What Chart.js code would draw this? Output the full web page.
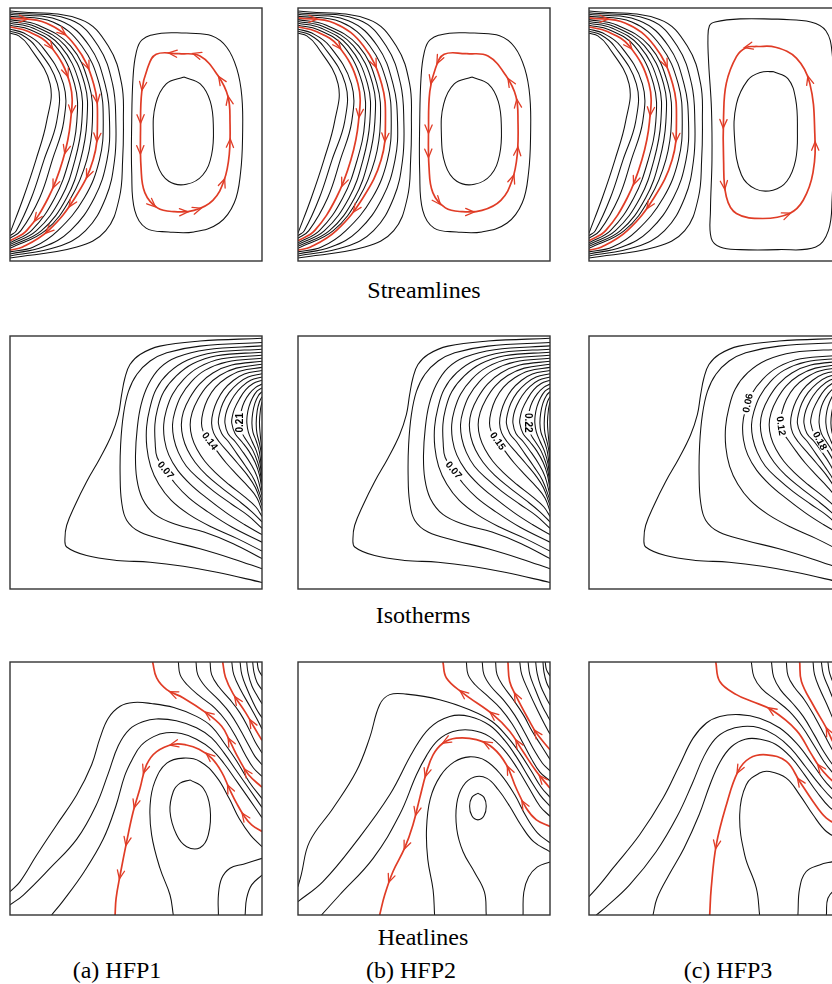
<!DOCTYPE html>
<html><head><meta charset="utf-8">
<script src="https://cdn.jsdelivr.net/npm/chart.js@4.4.0/dist/chart.umd.min.js"></script>
<style>
html,body{margin:0;padding:0;background:#fff;width:832px;height:984px;overflow:hidden;position:relative}
canvas{position:absolute}
.t{position:absolute;font-family:"Liberation Serif","Times New Roman",serif;font-size:24px;color:#000;text-align:center;width:300px;line-height:26px;white-space:nowrap}
</style></head><body>
<div class="t" style="left:274px;top:277px">Streamlines</div>
<div class="t" style="left:273px;top:602px">Isotherms</div>
<div class="t" style="left:273px;top:924px">Heatlines</div>
<div class="t" style="left:-33px;top:957px">(a) HFP1</div>
<div class="t" style="left:261px;top:957px">(b) HFP2</div>
<div class="t" style="left:578px;top:957px">(c) HFP3</div>
<script>
// ---------- Streamlines: left (clockwise) cell, x % read at fixed depths (percent of height from top) ----------
const slStartTop = [10, 9.2, 8.4, 7.5, 6.8, 6.0, 5.3, 4.6, 3.9, 3.2, 2.5, 1.9, 1.2];
const slNearX    = [3.5, 4.5, 5.5, 7, 8, 9, 10, 11, 14.5, 17, 20, 24, 28];
const slNearTop  = [11, 10.5, 9.9, 9.2, 8.6, 7.9, 7.3, 6.7, 6, 5.5, 5, 4.6, 4.5];
const slX15 = [7.5, 10, 12.5, 16, 18, 20, 22, 24, 26, 28.5, 31.5, 35, 39];
const slX30 = [15.9, 18.8, 21.2, 23.8, 25.6, 27.6, 29.6, 31.3, 33.2, 35.4, 37.7, 40.7, 44.3];
const slX45 = [14.5, 18.5, 21.3, 24, 26.5, 28.5, 30.5, 32.7, 34.7, 37, 39.5, 42, 45];
const slX60 = [10.3, 13.5, 16.8, 21, 23.5, 25.8, 28, 30.5, 33, 35.5, 38.5, 41.5, 44.7];
const slX75 = [5.3, 8.5, 11.8, 15.2, 17.8, 20.3, 22.5, 24.2, 25.8, 29.5, 33.5, 38, 43.4];
const slX88 = [null, 2.5, 4.3, 6.6, 8.5, 10.5, 12.5, 14, 15.2, 19, 24, 30, 38];
const slX94 = [null, null, null, null, null, null, null, null, 5, 9.3, 13, 18.5, 26.5];
const slEndTop = [89, 90, 91, 92, 92.8, 93.5, 94.2, 95, 95.7, 96.4, 97.2, 98, 98.8];
const slRed = [3, 8];

// right (counter-clockwise) cell, [x %, depth % from top]
const cellOuterAB = [[70,9.9],[60,10],[52.5,12.5],[50,18],[48.8,28],[48.3,45],[48.3,65],[49.5,80],[54,87],[63,88.5],[73,88.5],[83,85],[89,77],[91.5,65],[92.3,50],[92,35],[90,24],[86,15.5],[80,11],[70,9.9]];
const cellRedAB = [[67,18],[58,18.3],[54.5,24],[52.3,33],[51.8,48],[52,63],[53.5,73],[58.5,79],[65,80.5],[73,80],[80.5,76],[85,68],[87,58],[87.3,45],[86.5,35],[82.5,26.7],[75.4,19],[67,18]];
const cellInnerAB = [[69,27.3],[62,30],[57.8,38],[56.9,50],[58.5,62],[63,68.5],[70,69.7],[76.5,66],[80,58],[80.7,47],[79.5,37],[75.5,30],[69,27.3]];
const cellOuterC = [[75,4.4],[60,4.3],[50,5.5],[47.8,7],[47.2,12],[47.5,22],[48.6,40],[48.8,60],[48.2,80],[48.5,91],[52,94.5],[60,95.5],[75,95.5],[90,94.5],[95,88],[96.5,75],[97,55],[97,35],[96.5,18],[94,9],[88,5.5],[75,4.4]];
const cellRedC = [[66.4,15.2],[62.4,15.6],[58.5,19.2],[54.5,29.7],[53.4,43],[53.4,60],[54.5,74.6],[58.5,81.2],[69,83.2],[79.6,81.2],[85,76],[88.9,65],[89.6,49.5],[87.6,29.7],[82.3,19.8],[74,15.5],[66.4,15.2]];
const cellInnerC = [[73,25.1],[68,25.5],[63,28.5],[58.5,38],[57.8,52],[60.5,66],[66,71.5],[73,72],[78.5,68.5],[82,60],[82.7,48],[82,36],[79,28],[73,25.1]];

// arrow positions (fractional point index along each red line)
const arrowsStream = {
  a: {A: [2, 2.75, 3.7, 4.75, 5.65, 6.6], B: [0.35, 1.5, 2.55, 3.4, 4.4, 5.35, 6.15, 7], loop: [0.25, 2.8, 3.75, 4.55, 6.7, 8.5, 9.15, 10.9, 12.35, 13.87, 14.8, 16.17]},
  b: {A: [2, 3.8, 5.6], B: [0.4, 2.5, 4.4, 6.3], loop: [1.5, 2.5, 4, 4.65, 6.5, 8.4, 11.05, 12.1, 13.75, 14.7]},
  c: {A: [2, 3.75, 5.55], B: [0.4, 2.5, 4.4, 6.2], loop: [0.8, 4.15, 5.7, 8.9, 11.7, 13.1]}
};

// ---------- Isotherms (outermost to innermost), [x %, depth %] ----------
const isoLines = [
 [[100,0.9],[75.4,2],[59.5,4],[51.6,7.3],[47.6,11.3],[45.6,16.6],[44.3,23.2],[43,31.1],[40.3,39.1],[35.7,48.3],[30.4,57.6],[25.8,66.9],[22.5,74.8],[21.8,80.1],[22.5,83.4],[30.4,86.8],[42.3,88.7],[55.6,89.4],[68.8,91],[82.1,93.4],[100,97.4]],
 [[100,2.6],[75.4,4],[62.2,6.6],[55.6,9.9],[50.3,15.2],[47,21.9],[45,31.1],[43.9,43],[43.7,55],[44.3,65.6],[46.3,72.8],[51.6,77.5],[62.2,80.8],[75.4,84.1],[88.6,88.1],[100,92]],
 [[100,3.9],[78,5.4],[66.1,8.4],[59.5,12.6],[54.9,19.2],[52,27.2],[50.5,36.4],[49.8,47],[50.3,56.3],[52.5,64.2],[57.5,70.5],[66,74.5],[77,77.5],[88.6,82.1],[100,88]],
 [[100,5.2],[81,6.5],[70.5,9.5],[63,14.5],[58,21],[55.5,28.5],[54.2,36],[54.3,44],[55.8,51.5],[59,58.5],[64,65],[71,70.5],[80,75.5],[90,80],[100,85]],
 [[100,6.4],[82,7.8],[72.5,11],[66,15.8],[61,22],[58.5,29],[57.5,35],[57.6,42],[58.4,48],[61.8,53],[65.5,58.3],[71,64],[78.5,69.5],[88,75.5],[100,81.5]],
 [[100,7.6],[84,9],[75,12.3],[69,17],[64.5,23],[62,29.5],[61,35],[61.3,41],[63,47],[66.5,53],[71.5,58.5],[78,64],[86,70],[93,74.5],[100,78.5]],
 [[100,8.8],[86,10.3],[77.5,13.5],[72,18],[67.8,23.8],[65.4,30],[64.5,35],[65,40.5],[66.8,46],[70,51.5],[75,56.5],[81,61.5],[88,66.5],[94.5,71],[100,76]],
 [[100,10],[88,11.5],[80.5,14.6],[75.2,19],[71.3,24.5],[68.8,30],[68,35],[68.6,40],[70.4,45],[73.5,50],[78,55],[84,60],[90.5,65],[96,69.5],[100,73.5]],
 [[100,11.2],[89.8,12.7],[83.2,15.6],[78.2,19.8],[74.6,25],[72.3,30.2],[71.5,35],[72.2,40],[74.2,44.8],[77.3,49.5],[81.5,54],[87,58.8],[93,63.5],[97.5,67.5],[100,71.3]],
 [[100,12.4],[91.5,13.8],[86,16.5],[81.5,20.3],[78.4,25],[76.6,30],[76,34.5],[76.6,37.5],[79.3,41.5],[82.3,45.7],[85.8,50.2],[90,54.8],[94.5,59.5],[98,64],[100,69.2]],
 [[100,13.6],[93,15],[88.5,17.7],[84.8,21.3],[82.2,25.6],[80.6,30],[80,34.5],[80.8,38.3],[83,41.8],[86.6,46],[90.3,50.3],[94.2,55],[97.4,60],[100,67]],
 [[100,14.9],[94.5,16.2],[90.5,18.7],[87,22.3],[84.5,26.5],[83.2,30.5],[82.7,34.5],[84,38.5],[86.7,41.8],[90,46.5],[93.5,51.5],[97,57],[100,65]],
 [[100,16.2],[95.5,17.5],[92,20],[89,23.5],[86.8,27.5],[85.6,31],[85.3,34.5],[86.5,38.5],[89.4,41.8],[92.5,46],[95.5,50.5],[98,55.5],[100,63]],
 [[100,17.5],[96.5,18.8],[93.5,21.3],[91,25],[89,29],[88.2,32],[88,34.5],[89.3,38.5],[92,41.8],[94.8,45.5],[97.3,50],[99,55],[100,61]],
 [[100,19],[97.5,20.3],[95,22.8],[93,26],[91.8,29.5],[91.3,34.3],[92.2,38.5],[94.2,41.8],[96.5,45.5],[98.3,50],[99.3,54],[100,59]],
 [[100,20.5],[98,21.8],[96.2,24.5],[94.8,28],[94.1,31.5],[94,34.5],[94.6,38],[96,41.5],[97.8,45.5],[99.2,50.5],[100,57]],
 [[100,22],[98.6,23.5],[97.2,26.5],[96.3,30.5],[96,34.5],[96.4,38],[97.7,41.5],[99,46],[100,54.5]],
 [[100,24],[99,26],[98.1,29.5],[97.7,34.5],[98,38.5],[99,42.5],[99.7,46.5],[100,51.5]],
 [[100,26],[99.4,29],[99,34],[99.3,39],[99.8,44],[100,48]]
];
// panel (c) has wider spacing: the same lines minus two of the outer ones
const isoIndexC = [0, 1, 3, 5, 6, 7, 8, 9, 10, 11, 12, 13, 14, 15, 16, 17, 18];
const isoLabelsA = [{t:'0.07',x:61.8,y:53,a:50},{t:'0.14',x:79.3,y:41.5,a:53},{t:'0.21',x:91.3,y:34.3,a:-90}];
const isoLabelsB = [{t:'0.07',x:61.8,y:53,a:50},{t:'0.15',x:79.3,y:41.5,a:55},{t:'0.22',x:91.3,y:34.3,a:90}];
const isoLabelsC = [{t:'0.06',x:63,y:26.5,a:-78},{t:'0.12',x:76.2,y:35.5,a:82},{t:'0.18',x:91.6,y:41.4,a:62}];

// ---------- Heatlines, [x %, depth %]; red lines listed from the right wall ----------
const hlBlackA = [
 [[98.1,0],[98.6,3],[100,5.5]],
 [[96.3,0],[96.8,4],[98,8],[100,11]],
 [[93.9,0],[94.5,4.5],[96,9.5],[98.2,13.5],[100,16.5]],
 [[91.3,0],[92,5],[94,10.5],[96.5,16],[98.3,19.5],[100,22]],
 [[88,0],[88.8,5],[91.5,11],[95.5,18],[98,22.5],[100,26.5]],
 [[79.4,0],[80,5],[82.7,9.6],[87.3,14.9],[91.3,20.2],[94.6,26.1],[97.2,31.4],[100,36]],
 [[73.8,0],[74.5,5],[77.4,9.6],[82.7,14.9],[87.3,20.2],[91.3,26.7],[94.6,32.7],[97.2,37.3],[100,40.6]],
 [[66.8,0],[67.5,5],[70.2,8.9],[75.4,13.6],[81.3,18.2],[85.9,23.5],[89.9,30],[93.3,36.6],[96.6,41.9],[100,45.2]],
 [[0,90.8],[4,86.8],[10.6,76.3],[18.5,64.4],[26.5,52.5],[32.4,40.6],[35.7,30.1],[39,22.2],[43.7,17.5],[49,16],[56,16.4],[65,18],[74,21.5],[80,25.5],[85,32],[90,39.2],[95,47.5],[100,54]],
 [[0,96],[5.3,92.1],[15.9,81.5],[26.5,70],[34,57],[39,44],[43,33],[47.5,26.5],[53,23.5],[58,22.5],[66,23.2],[74,26],[80,30],[85,36],[90,43.2],[95,50.3],[100,57.5]],
 [[16.5,100],[21,94.5],[29.5,82.8],[37,70],[42,57],[45.5,45],[48.5,38.5],[52,33],[57,29.5],[62,28],[68,28.3],[74,30.5],[80,34.5],[85,40.2],[90,47.2],[95,54.3],[100,61.5]],
 [[64.8,100],[63.5,92.1],[59.5,81.5],[56.2,68.3],[55.6,56.5],[57.5,47.2],[62.2,40],[68.8,38],[75.4,39.3],[82,45.5],[87,54],[91,62],[95.5,68.5],[100,73]],
 [[71.4,46.6],[67.5,47.9],[64.8,51.2],[63.5,59.1],[66.1,68.3],[70.1,73],[75.4,73.4],[78.7,68.3],[79.4,57.8],[76.7,49.9],[71.4,46.6]],
 [[82.7,100],[82.7,92.1],[84,85.5],[87.3,81.5],[92.6,79.9],[100,77.6]],
 [[93.3,100],[93.9,93.4],[95.9,88.1],[100,84.2]]
];
const hlRedA = [
 [[100,31],[97,26],[93.5,20],[88.5,12.5],[85.5,6],[84.4,0]],
 [[100,49.5],[94.6,44.5],[90.6,37.9],[87.3,31.4],[84,25.4],[78,20.2],[68.8,14.2],[62.2,10.9],[58.2,6.3],[56.6,0]],
 [[100,67],[96,64.5],[93,61],[90,56],[87,50],[84,43.5],[80,38],[75,34.5],[70,32.8],[65,32.5],[58.2,35.4],[54.2,40.6],[51.6,49.9],[48.9,59.1],[46.3,71],[43.7,84.2],[42.1,93.4],[41.7,100]]
];
const hlArrowsA = [[1.3, 2.7], [1.15, 3, 4.9, 6.6], [2, 4, 6.2, 9, 11.2, 12.7, 14, 15]];

const hlBlackB = [
 [[98.1,0],[98.6,3],[100,5.5]],
 [[97.2,0],[97.6,4],[98.6,8],[100,11]],
 [[94.3,0],[94.9,4.5],[96.3,9.5],[98.4,14],[100,17]],
 [[91.3,0],[92,5],[94,10.5],[96.5,16.5],[98.3,20],[100,23]],
 [[88,0],[88.8,5],[91.5,11.5],[95,19],[97.8,24.5],[100,28.5]],
 [[78.4,0],[79,5],[81.5,9.6],[85.5,15],[89.5,21],[93,27.5],[96.5,33],[100,38.5]],
 [[73.1,0],[73.8,5],[76.5,9.6],[81.5,15],[86,21],[90,28],[93.5,34.5],[97,40],[100,43]],
 [[66.8,0],[67.5,5],[70.2,8.9],[75.4,13.6],[80.5,18.5],[85,24.5],[89,31.5],[92.5,38],[96,43.5],[100,47]],
 [[0,88.8],[1.3,84],[4.6,71],[13.9,57.8],[23.1,43.3],[28.4,30.1],[32.4,16.9],[36.4,12.9],[43,12.7],[56.2,14.9],[68.1,18.9],[77,23.5],[83,29.5],[88,36],[92.5,43],[96.5,49.5],[100,53.5]],
 [[0,94.7],[9.9,86.8],[23.1,71],[36.4,52.5],[45.6,35.4],[52.2,26.1],[60.2,21.5],[68.1,21.5],[76,25],[82,31],[87,38],[91.5,45.5],[96,52.5],[100,57]],
 [[9.3,100],[16.5,92.1],[29.8,77.6],[40.3,60.4],[47,44.6],[51,37],[55.5,31],[61.5,27.5],[69,27],[76,29.5],[82,35],[87,42],[91.5,49.5],[96,57],[100,61]],
 [[54.2,100],[53.6,90],[51.5,78],[51,66],[52.5,54],[56.5,45],[62,39.5],[68,37.5],[74.5,39],[80.5,44.5],[86,52.5],[90.5,61],[95,67.5],[100,71.5]],
 [[74.7,100],[74,91],[70,83],[65.5,75],[63,66],[63,56],[65.5,49],[70,45.5],[75,46],[79.5,50.5],[84,57],[88.5,64.5],[93.5,71],[100,75]],
 [[71.4,51.8],[69,53.5],[68.1,57],[69,60.8],[71.4,62.4],[73.8,60.8],[74.7,57],[73.8,53.5],[71.4,51.8]],
 [[89.3,100],[89.6,91],[91.5,85],[95,81],[100,79]]
];
const hlRedB = [
 [[100,34.7],[94.6,28.1],[91.9,23.5],[86.6,13.6],[84,7.7],[83.3,0]],
 [[100,49.9],[94.6,43.3],[89.3,35.4],[84,27.4],[77.4,20.8],[65.5,12.3],[58.9,6.3],[57.5,0]],
 [[100,65],[94.6,62.4],[90.6,57.8],[86.6,49.9],[82.7,40.6],[77.4,34],[70.8,30.7],[62.8,30.1],[57.5,32.1],[53.6,36.7],[50.9,43.9],[48.3,53.8],[45.6,64.4],[42.3,73.6],[37.7,82.8],[34.4,92.1],[32.4,100]]
];
const hlArrowsB = [[1, 3], [0.6, 2.4, 4, 5], [2.2, 3.8, 5.4, 7.75, 10, 11.5, 12.9, 14.3]];

const hlBlackC = [
 [[97.5,0],[98.2,3.5],[100,7]],
 [[94.8,0],[95.5,4.5],[97.5,9.5],[100,14]],
 [[92.2,0],[93,5],[95,10],[97.5,16],[100,21]],
 [[88.9,0],[89.5,5],[91.5,10.5],[94.5,17],[97.5,24],[100,29]],
 [[78.3,0],[79,5.5],[81.5,10],[85.5,15],[89.5,21.5],[93.5,29],[97,35.5],[100,40.5]],
 [[72.4,0],[73.3,6],[76,11],[80.5,16],[85,21.5],[89.5,29],[93.5,36],[97,41],[100,44]],
 [[64.4,0],[65.5,6],[68.5,10.5],[74,15],[79.5,19.5],[84.5,25.5],[89,32.5],[93,39],[96.5,43.5],[100,47]],
 [[0,92.7],[4.2,88.1],[9.5,81.5],[20.1,68.3],[29.4,53.8],[36,40.6],[41.3,30.1],[46.6,24.1],[51.9,21.5],[59.8,20.8],[67.7,22.2],[75.7,26.1],[82.3,32.1],[88.9,40.6],[94.2,47.8],[100,53.5]],
 [[2.9,100],[6.9,96.7],[16.1,88.1],[26.7,74.9],[35,61],[41,48],[45.5,37.5],[50,30.5],[55,27],[61,25.5],[67.5,26],[74,29],[80,34],[86,41.5],[91.5,48.5],[96.5,54],[100,56.5]],
 [[25.4,100],[27,93.4],[31.7,84.2],[37.7,73.6],[43.7,60.4],[48,48.5],[52,39.5],[56.5,33.5],[62,30.5],[68,30.5],[74,32.5],[80,37.5],[85.5,44.5],[90.5,51.5],[95.5,57.5],[100,60.5]],
 [[67.7,100],[66.4,89.4],[61.8,76.3],[59.8,60.4],[62.4,48.5],[67.7,43.9],[71.7,43.3],[78.3,45.9],[83.6,52.5],[88.9,60.4],[94.2,67],[100,70.3]],
 [[82.9,100],[83.6,89.4],[86.2,82.8],[91.5,80.2],[96.8,78.9],[100,78.2]],
 [[94.2,100],[94.8,93.4],[98.1,89.4],[100,88.1]]
];
const hlRedC = [
 [[100,37],[97,32],[94.2,26.1],[88.9,16.9],[84.3,7.7],[83.6,0]],
 [[100,50],[95,45.5],[91.3,41.2],[88,36],[82.3,27],[72.4,18.9],[64.5,15.5],[58.5,12.9],[51.9,7.7],[50.3,0]],
 [[100,65],[94.2,61.7],[88.9,55.1],[83.6,47.2],[78.3,39.3],[70.4,36.7],[63.8,38],[59.1,43.3],[54.5,56.5],[50.5,72.3],[48.5,89.4],[47.9,100]]
];
const hlArrowsC = [[1.8], [1.9, 5], [3, 6.9, 9]];

// ---------- drawing helpers ----------
const RED = '#e03c26';
const COLS = [10, 298, 589], ROWS = [8, 336, 662];

function leftCell(){
  const out = [];
  for (let i = 0; i < slStartTop.length; i++){
    const p = [[0,slStartTop[i]],[slNearX[i],slNearTop[i]],[slX15[i],15],[slX30[i],30],[slX45[i],45],[slX60[i],60],[slX75[i],75]];
    if (slX88[i] !== null) p.push([slX88[i],88]);
    if (slX94[i] !== null) p.push([slX94[i],94.5]);
    p.push([0,slEndTop[i]]);
    out.push(p);
  }
  return out;
}

const arrowPlugin = {
  id: 'arrows',
  afterDatasetsDraw(chart){
    const ctx = chart.ctx;
    chart.data.datasets.forEach((ds, i) => {
      if (!ds.arrows || !ds.arrows.length) return;
      const pts = chart.getDatasetMeta(i).data;
      ctx.save();
      ctx.strokeStyle = ds.borderColor; ctx.lineWidth = 1.3; ctx.lineJoin = 'miter'; ctx.lineCap = 'round';
      ds.arrows.forEach(a => {
        const k = Math.min(Math.floor(a), pts.length - 2), t = a - k;
        const p0 = pts[k], p3 = pts[k+1];
        const c1x = p0.cp2x ?? p0.x, c1y = p0.cp2y ?? p0.y, c2x = p3.cp1x ?? p3.x, c2y = p3.cp1y ?? p3.y;
        const u = 1 - t;
        const x = u*u*u*p0.x + 3*u*u*t*c1x + 3*u*t*t*c2x + t*t*t*p3.x;
        const y = u*u*u*p0.y + 3*u*u*t*c1y + 3*u*t*t*c2y + t*t*t*p3.y;
        let dx = 3*u*u*(c1x-p0.x) + 6*u*t*(c2x-c1x) + 3*t*t*(p3.x-c2x);
        let dy = 3*u*u*(c1y-p0.y) + 6*u*t*(c2y-c1y) + 3*t*t*(p3.y-c2y);
        let L = Math.hypot(dx, dy);
        if (L < 1e-6){ dx = p3.x - p0.x; dy = p3.y - p0.y; L = Math.hypot(dx, dy); }
        dx /= L; dy /= L;
        const tx = x + dx*4, ty = y + dy*4, bx = x - dx*4.5, by = y - dy*4.5, nx = -dy*3.6, ny = dx*3.6;
        ctx.beginPath(); ctx.moveTo(bx+nx, by+ny); ctx.lineTo(tx, ty); ctx.lineTo(bx-nx, by-ny); ctx.stroke();
      });
      ctx.restore();
    });
  }
};
const framePlugin = {
  id: 'frame',
  afterDraw(chart){
    const a = chart.chartArea, ctx = chart.ctx;
    ctx.save(); ctx.strokeStyle = '#333'; ctx.lineWidth = 1.4;
    ctx.strokeRect(a.left, a.top, a.right - a.left, a.bottom - a.top); ctx.restore();
  }
};
function labelPlugin(items){
  return {
    id: 'clabels',
    afterDatasetsDraw(chart){
      const ctx = chart.ctx, sx = chart.scales.x, sy = chart.scales.y;
      ctx.save();
      ctx.font = 'bold 10px "Liberation Sans", Arial, sans-serif';
      ctx.textAlign = 'center'; ctx.textBaseline = 'middle';
      items.forEach(l => {
        const px = sx.getPixelForValue(l.x), py = sy.getPixelForValue(100 - l.y);
        const w = ctx.measureText(l.t).width;
        ctx.save(); ctx.translate(px, py); ctx.rotate(l.a * Math.PI / 180);
        ctx.fillStyle = '#fff'; ctx.fillRect(-w/2 - 2, -3.8, w + 4, 7.6);
        ctx.fillStyle = '#000'; ctx.fillText(l.t, 0, 0.5);
        ctx.restore();
      });
      ctx.restore();
    }
  };
}

function panel(col, row, curves, labels){
  const c = document.createElement('canvas');
  c.width = 256; c.height = 257;
  c.style.left = (COLS[col] - 2) + 'px'; c.style.top = (ROWS[row] - 2) + 'px';
  document.body.appendChild(c);
  new Chart(c, {
    type: 'scatter',
    data: { datasets: curves.map(cv => ({
      data: cv.pts.map(p => ({x: p[0], y: 100 - p[1]})),
      showLine: true, borderColor: cv.red ? RED : '#111', borderWidth: cv.red ? 1.7 : 1.05,
      pointRadius: 0, pointHoverRadius: 0, pointHitRadius: 0, tension: 0.4, fill: false,
      arrows: cv.arrows || []
    })) },
    options: {
      responsive: false, maintainAspectRatio: false, animation: false, events: [],
      layout: { padding: 2 },
      plugins: { legend: {display: false}, tooltip: {enabled: false} },
      scales: { x: {type: 'linear', min: 0, max: 100, display: false}, y: {type: 'linear', min: 0, max: 100, display: false} }
    },
    plugins: [arrowPlugin, labelPlugin(labels || []), framePlugin]
  });
}

function streamPanel(col, key){
  const ar = arrowsStream[key];
  const curves = leftCell().map((p, i) => ({pts: p, red: slRed.includes(i), arrows: i === slRed[0] ? ar.A : (i === slRed[1] ? ar.B : [])}));
  const isC = key === 'c';
  curves.push({pts: isC ? cellOuterC : cellOuterAB});
  curves.push({pts: isC ? cellInnerC : cellInnerAB});
  curves.push({pts: isC ? cellRedC : cellRedAB, red: true, arrows: ar.loop});
  panel(col, 0, curves);
}
function isoPanel(col, lines, labels){ panel(col, 1, lines.map(p => ({pts: p})), labels); }
function heatPanel(col, blacks, reds, arrows){
  const curves = blacks.map(p => ({pts: p}));
  reds.forEach((p, i) => curves.push({pts: p, red: true, arrows: arrows[i]}));
  panel(col, 2, curves);
}

streamPanel(0, 'a'); streamPanel(1, 'b'); streamPanel(2, 'c');
isoPanel(0, isoLines, isoLabelsA);
isoPanel(1, isoLines, isoLabelsB);
isoPanel(2, isoIndexC.map(i => isoLines[i]), isoLabelsC);
heatPanel(0, hlBlackA, hlRedA, hlArrowsA);
heatPanel(1, hlBlackB, hlRedB, hlArrowsB);
heatPanel(2, hlBlackC, hlRedC, hlArrowsC);
</script>
</body></html>
